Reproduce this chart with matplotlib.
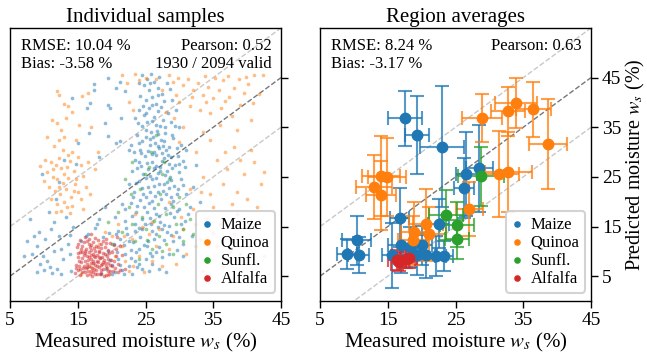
import matplotlib
matplotlib.use("Agg")
import matplotlib.pyplot as plt
import numpy as np

plt.rcParams['font.family'] = ['Liberation Serif', 'DejaVu Serif']
plt.rcParams['mathtext.fontset'] = 'stix'

# ---------------- data ----------------
series_names = ["Maize", "Quinoa", "Sunfl.", "Alfalfa"]
series_colors = ["#1f77b4", "#ff7f0e", "#2ca02c", "#d62728"]

maize_pts = [
    (17.4,43.8),(19.4,44.9),(21.2,44.2),(20.6,42.9),(22.0,42.4),(17.4,42.5),(14.1,40.9),(16.8,39.8),
    (16.4,38.9),(19.5,39.4),(19.8,38.9),(21.4,36.8),(19.0,35.9),(16.7,33.8),(19.5,33.3),(15.1,31.8),
    (20.6,31.8),(21.3,32.2),(13.0,28.5),(14.8,27.6),(22.5,30.5),(18.2,29.0),(12.2,24.0),(9.7,25.6),
    (7.5,12.0),(8.2,9.5),(9.0,11.0),(9.5,7.5),(10.2,12.5),(10.5,8.0),(11.0,14.5),(11.5,10.0),(12.0,6.5),
    (12.3,13.0),(12.8,8.5),(13.2,17.0),(13.5,11.5),(14.0,6.0),(14.3,15.0),(8.0,16.5),(9.3,14.0),
    (10.8,18.0),(11.8,20.5),(7.0,9.0),(12.5,5.5),(13.8,9.5),(9.0,5.8),(10.0,6.2),(11.2,5.6),
    (18.5,5.5),(19.2,6.5),(20.0,7.2),(20.5,5.8),(21.0,8.5),(21.5,6.2),(22.0,9.5),(22.5,7.0),(23.0,5.5),
    (23.5,8.0),(24.0,10.5),(24.5,6.5),(19.5,10.0),(20.3,11.5),(21.2,12.5),(22.3,13.5),(23.2,11.8),
    (18.8,12.8),(20.8,9.8),(22.8,10.2),(24.2,12.8),(25.0,8.5),(25.5,6.0),(26.0,7.5),(19.8,8.2),
    (21.8,5.5),(23.8,6.8),(16.5,13.5),(17.5,14.8),(18.2,16.5),(15.5,12.0),(24.5,14.5),(23.5,15.5),
    (22.0,16.2),(20.5,17.0),(19.0,19.0),(21.5,19.5),(25.2,11.0),(26.5,9.8),(27.0,6.5),(28.0,5.8),
    (26.2,12.5),(27.5,8.8),
    (24.5,45.5),(25.2,44.8),(25.8,45.8),(26.3,44.2),(27.0,45.2),(24.8,43.5),(25.5,42.6),(26.8,43.0),
    (27.5,41.8),(26.0,41.0),(28.2,44.0),(25.0,40.5),(24.2,41.2),(27.8,40.2),(26.6,39.6),
    (24.0,38.5),(24.8,37.5),(25.5,38.8),(26.2,37.0),(26.9,38.2),(27.6,36.5),(28.3,37.8),(25.2,36.0),
    (26.5,35.5),(27.2,35.2),(28.8,36.0),(23.5,36.8),(24.5,35.2),(25.9,39.5),(29.5,38.5),
    (23.8,33.5),(24.5,32.2),(25.0,34.5),(25.6,31.5),(26.1,33.0),(26.7,34.2),(27.3,32.5),(27.9,33.8),
    (28.5,31.0),(29.1,32.8),(24.2,30.5),(25.3,30.2),(26.4,31.8),(27.0,30.8),(28.0,30.4),(29.6,30.8),
    (22.8,31.5),(26.9,33.6),(25.8,34.0),(27.6,31.2),
    (23.5,28.5),(24.3,27.2),(24.9,29.3),(25.4,26.5),(26.0,28.0),(26.5,29.5),(27.1,27.0),(27.7,28.8),
    (28.2,26.2),(28.8,29.0),(29.4,27.5),(30.0,26.0),(24.6,25.5),(25.7,25.2),(26.8,25.8),(27.4,29.8),
    (28.5,27.7),(29.8,29.3),(23.0,26.2),(26.2,26.8),(30.5,28.2),(27.9,25.4),
    (22.5,23.5),(23.3,22.0),(24.0,24.2),(24.7,21.5),(25.3,23.0),(25.9,24.5),(26.4,21.2),(27.0,23.5),
    (27.6,22.2),(28.1,24.0),(28.7,21.0),(29.2,23.2),(29.8,22.5),(30.3,24.5),(26.0,20.2),(27.3,20.5),
    (24.2,20.4),(31.0,21.5),(25.6,22.0),(28.4,22.8),
    (22.0,18.5),(23.0,17.2),(23.8,19.2),(24.5,16.5),(25.2,18.0),(25.8,15.5),(26.5,17.5),(27.2,16.0),
    (27.9,18.8),(28.5,15.2),(29.2,17.0),(30.0,18.5),(30.8,16.2),(26.0,14.2),(27.5,14.5),(24.0,14.8),
    (29.5,14.0),(31.5,19.0),(28.8,19.5),(25.5,19.8),
    (32.0,23.0),(31.8,13.0),(33.0,20.0),(30.5,11.5),(32.5,27.5),(29.0,12.0),(30.0,35.0),(31.0,30.5),
    (24.1,44.0),(25.6,43.9),(26.9,41.5),(28.6,42.8),(24.6,39.2),(27.3,39.0),(28.9,40.5),(25.1,37.8),
    (26.0,36.3),(27.9,35.0),(23.9,35.8),(29.3,35.3),
    (24.0,31.8),(25.1,33.0),(26.3,30.0),(27.8,32.2),(28.9,33.5),(23.3,30.1),(30.2,31.5),(25.7,32.7),
    (26.8,31.2),(28.3,29.5),
    (24.1,28.0),(25.2,27.8),(26.6,27.2),(27.4,28.2),(28.9,26.8),(29.9,27.7),(23.8,26.8),(25.9,29.6),
    (27.2,26.1),(28.6,25.0),(30.8,26.9),(24.4,29.9),
    (23.6,23.8),(24.5,22.8),(25.1,24.8),(26.2,23.2),(26.9,22.0),(27.8,23.6),(28.8,24.4),(29.6,21.6),
    (30.6,23.3),(25.0,20.9),(26.6,24.8),(28.0,21.5),(23.1,20.9),(29.0,20.2),
    (22.8,19.8),(23.6,18.0),(24.8,19.0),(25.6,16.8),(26.3,18.8),(27.0,17.2),(27.8,15.4),(28.6,17.8),
    (29.6,18.2),(30.3,15.5),(24.9,15.5),(26.8,15.0),(28.2,14.0),(23.4,14.2),(31.2,17.5),
    (25.4,12.0),(26.5,13.5),(27.7,12.3),(28.8,13.2),(29.9,12.8),(27.0,10.8),(28.4,9.5),(29.6,10.2),
    (26.0,9.0),(24.8,11.2),(30.6,9.0),
    (16.2,13.0),(17.9,15.5),(19.6,13.8),(21.0,14.2),(22.6,12.0),(20.1,5.4),(21.3,7.2),(22.9,8.6),
    (24.1,7.4),(25.6,9.6),(23.6,9.8),(21.9,11.2),(20.6,13.5),(22.1,14.8),
    (11.5,16.0),(9.8,9.0),(8.5,13.0),(12.6,10.5),(13.9,13.3),(10.9,6.8),
]

quinoa_pts = [
    (11.9,42.4),(12.3,41.5),(12.9,39.7),(13.6,39.2),(14.2,38.0),(12.0,35.8),(12.5,34.5),(13.0,33.0),
    (12.2,32.5),(11.5,31.2),(12.8,30.5),(13.5,29.5),(14.2,30.0),(15.0,29.0),(10.2,28.5),(11.0,28.0),
    (11.8,27.5),(12.6,26.8),(13.4,27.0),(14.4,26.2),(15.5,27.5),(10.5,26.0),(11.3,25.0),(12.0,24.5),
    (12.8,23.8),(13.6,24.8),(14.6,23.5),(15.8,25.2),(10.8,23.0),(11.6,22.2),(12.4,21.5),(13.2,22.5),
    (14.0,21.0),(15.0,22.0),(16.2,23.0),(11.0,20.5),(12.0,19.5),(13.0,20.0),(14.2,19.2),(15.5,20.5),
    (12.5,18.2),(13.8,17.8),(16.8,21.5),(17.5,26.5),(18.0,30.0),(9.5,27.2),(17.0,35.0),(15.2,35.5),
    (11.2,36.5),(15.6,41.4),(16.5,42.0),
    (21.5,45.5),(22.2,44.0),(23.5,45.8),(24.0,44.5),(28.5,45.5),(29.0,44.2),(29.8,45.0),(30.5,43.5),
    (31.2,44.8),(32.0,42.5),(32.8,44.0),(33.5,41.5),(34.2,43.2),(35.0,40.8),(35.8,42.5),(36.5,44.5),
    (37.3,41.0),(38.0,43.0),(38.8,44.8),(39.5,42.0),(40.2,43.8),(41.0,45.6),(42.3,45.6),(30.0,40.0),
    (31.5,39.2),(33.0,38.5),(34.5,37.8),(36.2,38.8),(37.8,37.2),(39.0,39.5),(40.5,36.5),(28.0,38.0),
    (29.2,36.8),(22.5,40.0),(23.2,38.5),(36.0,35.5),(38.5,34.5),(33.5,34.0),(30.5,35.0),(27.5,42.5),
    (38.0,31.0),(40.5,30.5),(41.0,28.0),(35.5,28.5),(37.0,26.5),(39.5,25.5),(42.5,26.0),(33.5,25.0),
    (36.5,23.5),(38.5,22.0),(40.0,20.5),(34.5,21.5),(31.5,22.5),(32.0,18.5),(34.0,16.5),(36.0,15.5),
    (38.5,17.5),(41.5,19.0),(30.5,14.5),(33.0,12.5),(35.5,11.0),(37.5,12.5),(31.0,9.5),(29.5,7.5),
    (34.0,8.5),(36.5,7.0),(39.0,9.5),(42.0,12.0),(30.0,32.0),(32.5,30.0),(34.5,32.5),(28.5,20.0),
    (15.5,5.5),(17.0,6.8),(19.5,5.2),(20.5,9.0),(21.5,11.0),(22.5,6.0),(23.0,12.5),(24.0,9.0),
    (25.5,13.5),(26.5,11.0),(27.5,7.0),(28.5,10.5),(19.0,14.0),(21.0,15.5),(23.5,17.5),(26.0,16.0),
    (18.2,11.5),(20.0,13.0),(22.0,8.0),(24.8,5.8),
    (12.2,28.8),(13.9,28.2),(11.4,26.6),(13.0,25.5),(14.8,24.6),(12.2,23.0),(14.4,22.2),(10.0,24.2),
    (13.4,19.0),(11.8,18.0),(15.8,18.5),(16.5,28.0),(14.8,32.5),(13.2,36.8),(10.5,33.0),
    (25.0,45.0),(26.5,44.7),(33.8,45.3),(35.3,44.9),(37.2,45.4),(39.8,45.2),(31.8,41.0),(36.8,40.2),
    (40.8,39.8),(41.8,41.8),(29.5,41.5),(34.0,40.0),
    (39.0,28.5),(36.8,30.0),(42.0,23.5),(37.8,19.5),(35.0,19.0),(33.2,22.0),(40.8,15.0),(38.0,13.5),
    (32.5,15.5),(35.0,13.8),(42.5,9.0),(33.5,6.0),(37.5,9.8),(30.2,17.0),
    (24.5,15.0),(27.0,14.5),(26.0,8.0),(23.2,7.0),(29.0,13.0),(21.8,13.0),
]

sunfl_pts = [
    (23.0,28.0),(25.5,27.0),(24.2,22.5),(26.8,19.5),(22.5,19.0),(28.0,17.5),(29.5,15.5),(25.0,14.5),
    (27.0,13.0),(30.5,12.0),(21.5,14.0),(23.5,12.0),(26.0,10.5),(31.5,16.5),(28.5,24.5),(30.0,21.0),
    (20.0,11.5),(24.5,17.0),(27.5,25.5),(26.5,33.5),(32.5,11.0),(29.0,9.5),(22.0,24.5),(25.8,30.0),
    (19.5,16.0),(28.0,11.5),(24.0,8.5),(31.0,19.5),(27.2,21.5),(23.0,15.5),
    (24.9,25.5),(26.2,16.2),(29.0,19.0),(27.5,10.0),(22.8,21.5),(30.5,14.5),(25.2,12.2),(32.0,13.5),
    (21.0,18.0),(27.8,28.0),
]

alfalfa_pts = [
    (14.6,5.6),(14.8,7.2),(15.0,8.8),(15.1,6.3),(15.3,9.9),(15.4,5.2),(15.5,7.8),(15.6,11.0),(15.8,6.7),
    (15.9,9.2),(16.0,8.1),(16.1,5.8),(16.2,10.4),(16.3,7.4),(16.4,12.0),(16.5,6.1),(16.6,8.9),(16.7,9.8),
    (16.8,5.4),(16.9,7.7),(17.0,11.2),(17.0,8.4),(17.1,6.6),(17.2,9.5),(17.3,5.9),(17.4,10.6),(17.5,7.2),
    (17.5,8.8),(17.6,12.6),(17.7,6.3),(17.8,9.2),(17.9,5.5),(18.0,7.9),(18.1,10.1),(18.2,6.8),(18.3,8.6),
    (18.4,11.4),(18.5,5.7),(18.6,7.5),(18.7,9.6),(18.8,6.4),(18.9,8.2),(19.0,10.8),(19.1,5.3),(19.2,7.0),
    (19.3,9.0),(19.4,6.1),(19.5,8.5),(19.7,11.6),(19.8,7.3),(20.0,9.8),(20.2,6.0),(20.4,8.0),(20.6,10.5),
    (15.2,7.0),(15.7,8.6),(16.1,9.6),(16.4,6.9),(16.8,10.9),(17.2,7.6),(17.4,9.0),(17.8,8.0),(18.2,9.9),
    (18.6,8.9),(19.0,7.7),(19.4,10.2),(15.5,10.5),(16.0,12.8),(17.0,13.5),(18.0,12.2),(19.2,12.5),
    (16.9,6.0),(17.6,5.4),(18.4,6.2),(15.9,7.0),(16.6,11.5),(17.3,11.9),(21.0,7.5),(21.5,9.2),(22.0,6.5),
    (21.2,11.0),(20.8,12.8),(14.9,10.8),(15.3,12.2),(16.3,5.3),(18.9,5.0),(19.6,5.5),(20.1,7.1),(20.9,5.8),
    (14.7,6.6),(15.0,9.6),(15.4,6.5),(15.6,9.8),(15.9,11.8),(16.2,6.7),(16.4,9.0),(16.7,7.1),(16.9,10.2),
    (17.1,5.1),(17.3,8.0),(17.6,10.0),(17.9,7.0),(18.1,8.9),(18.3,5.4),(18.5,10.7),(18.8,7.9),(19.0,9.4),
    (19.3,6.6),(19.6,9.6),(19.9,8.2),(20.3,11.2),(20.5,6.6),(15.1,11.4),(16.0,10.0),(16.5,8.3),(17.0,9.2),
    (17.7,11.0),(18.4,7.2),(19.1,11.7),(19.8,6.0),(15.6,5.8),(17.4,6.4),(18.0,10.8),(16.7,12.5),(20.7,9.0),
    (21.3,6.3),(15.2,8.1),(18.7,12.1),(19.5,7.6),
]

# Region averages: x, y, x-error, y-error
maize_avg_x  = [17.5, 19.3, 23.0, 28.5, 26.6, 26.3, 22.5, 16.8, 10.4, 9.0, 10.7, 15.7, 16.9, 18.3, 20.0, 19.3, 20.7, 22.1, 23.3]
maize_avg_y  = [36.8, 33.5, 31.1, 26.7, 25.6, 22.8, 15.6, 16.8, 12.2, 9.4, 9.2, 9.2, 11.2, 10.9, 11.2, 9.2, 9.2, 9.0, 9.0]
maize_avg_xe = [2.5, 1.8, 3.2, 2.0, 1.5, 1.5, 1.5, 1.4, 2.2, 1.5, 1.6, 1.5, 1.8, 1.5, 1.5, 1.4, 1.5, 1.5, 1.3]
maize_avg_ye = [5.6, 7.9, 12.2, 8.7, 8.5, 6.0, 5.0, 6.0, 5.0, 3.0, 3.6, 6.5, 5.5, 4.0, 4.0, 4.0, 4.6, 4.0, 3.0]

quinoa_avg_x  = [14.0, 14.9, 13.0, 14.0, 18.9, 18.7, 20.6, 21.1, 27.0, 31.4, 32.8, 28.9, 32.7, 34.0, 36.5, 38.7]
quinoa_avg_y  = [25.2, 25.0, 23.0, 21.3, 14.0, 12.2, 15.5, 13.5, 18.5, 25.6, 26.0, 36.9, 38.2, 39.9, 38.6, 31.6]
quinoa_avg_xe = [2.8, 2.8, 2.7, 2.2, 2.0, 2.2, 2.5, 2.5, 2.0, 3.0, 3.5, 3.0, 2.5, 3.1, 2.6, 2.8]
quinoa_avg_ye = [8.0, 7.8, 6.5, 7.0, 6.0, 5.0, 7.0, 5.5, 5.5, 8.7, 8.1, 4.8, 5.0, 5.1, 5.5, 9.0]

sunfl_avg_x  = [28.8, 23.6, 25.2, 25.2]
sunfl_avg_y  = [25.1, 17.3, 15.4, 12.4]
sunfl_avg_xe = [3.4, 2.5, 2.5, 1.8]
sunfl_avg_ye = [5.9, 5.0, 4.5, 4.0]

alfalfa_avg_x  = [16.3, 17.7, 18.1, 16.6]
alfalfa_avg_y  = [8.2, 8.4, 8.6, 7.9]
alfalfa_avg_xe = [1.2, 1.3, 1.2, 1.1]
alfalfa_avg_ye = [2.0, 1.8, 2.0, 1.9]

ticks = [5, 15, 25, 35, 45]
left_stats = ("RMSE: 10.04 %\nBias: -3.58 %", "Pearson: 0.52\n1930 / 2094 valid")
right_stats = ("RMSE: 8.24 %\nBias: -3.17 %", "Pearson: 0.63")

# ---------------- figure ----------------
fig = plt.figure(figsize=(6.47, 3.60), dpi=100)
ax1 = fig.add_axes([10/647, 1-301/360, 271/647, 273/360])
ax2 = fig.add_axes([320/647, 1-301/360, 271/647, 273/360])

def style(ax, show_labels):
    ax.set_xlim(5, 45)
    ax.set_ylim(0, 55)
    ax.set_xticks(ticks)
    ax.set_yticks(ticks)
    ax.yaxis.tick_right()
    ax.tick_params(axis='both', labelsize=14, length=5, width=1, direction='out', pad=3)
    if not show_labels:
        ax.tick_params(axis='y', labelright=False)
    ax.set_xlabel(r"Measured moisture $w_s$ (%)", fontsize=15, labelpad=1)
    xs = np.array([5, 45])
    ax.plot(xs, xs + 10, ls='--', color='#c8c8c8', lw=1, zorder=1)
    ax.plot(xs, xs - 10, ls='--', color='#c8c8c8', lw=1, zorder=1)
    ax.plot(xs, xs, ls='--', color='#777777', lw=1, zorder=1)
    for s in ax.spines.values():
        s.set_linewidth(1.0)

def stats(ax, texts):
    ax.text(0.04, 0.965, texts[0], transform=ax.transAxes, ha='left', va='top',
            fontsize=12, linespacing=1.2)
    ax.text(0.965, 0.965, texts[1], transform=ax.transAxes, ha='right', va='top',
            fontsize=12, linespacing=1.2, multialignment='right')

def legend(ax):
    handles = [ax.scatter([], [], s=14, color=c, label=n) for n, c in zip(series_names, series_colors)]
    leg = ax.legend(handles=handles, loc='lower right', fontsize=12, handlelength=0.6,
                    handletextpad=0.5, labelspacing=0.12, borderpad=0.35, frameon=True,
                    fancybox=True, framealpha=0.85, edgecolor='#cccccc',
                    bbox_to_anchor=(0.985, 0.025), borderaxespad=0.1)
    leg.get_frame().set_linewidth(1.5)

# Left panel
style(ax1, False)
all_pts = [maize_pts, quinoa_pts, sunfl_pts, alfalfa_pts]
for pts, c in zip(all_pts, series_colors):
    arr = np.array(pts)
    ax1.scatter(arr[:, 0], arr[:, 1], s=7, color=c, alpha=0.5, linewidths=0, zorder=2)
ax1.set_title("Individual samples", fontsize=15, pad=4)
stats(ax1, left_stats)
legend(ax1)

# Right panel
style(ax2, True)
ax2.set_ylabel(r"Predicted moisture $w_s$ (%)", fontsize=14.5)
ax2.yaxis.set_label_position('right')
ax2.yaxis.set_label_coords(1.122, 0.5)
avg = [
    (maize_avg_x, maize_avg_y, maize_avg_xe, maize_avg_ye),
    (quinoa_avg_x, quinoa_avg_y, quinoa_avg_xe, quinoa_avg_ye),
    (sunfl_avg_x, sunfl_avg_y, sunfl_avg_xe, sunfl_avg_ye),
    (alfalfa_avg_x, alfalfa_avg_y, alfalfa_avg_xe, alfalfa_avg_ye),
]
for (x, y, xe, ye), c in zip(avg, series_colors):
    ax2.errorbar(x, y, xerr=xe, yerr=ye, fmt='none', ecolor=c, elinewidth=1.5,
                 capsize=5, capthick=1.5, alpha=0.75, zorder=3)
    ax2.plot(x, y, 'o', color=c, ms=7.5, zorder=4, ls='none')
ax2.set_title("Region averages", fontsize=15, pad=4)
stats(ax2, right_stats)
legend(ax2)

fig.savefig("out.png", dpi=100)
